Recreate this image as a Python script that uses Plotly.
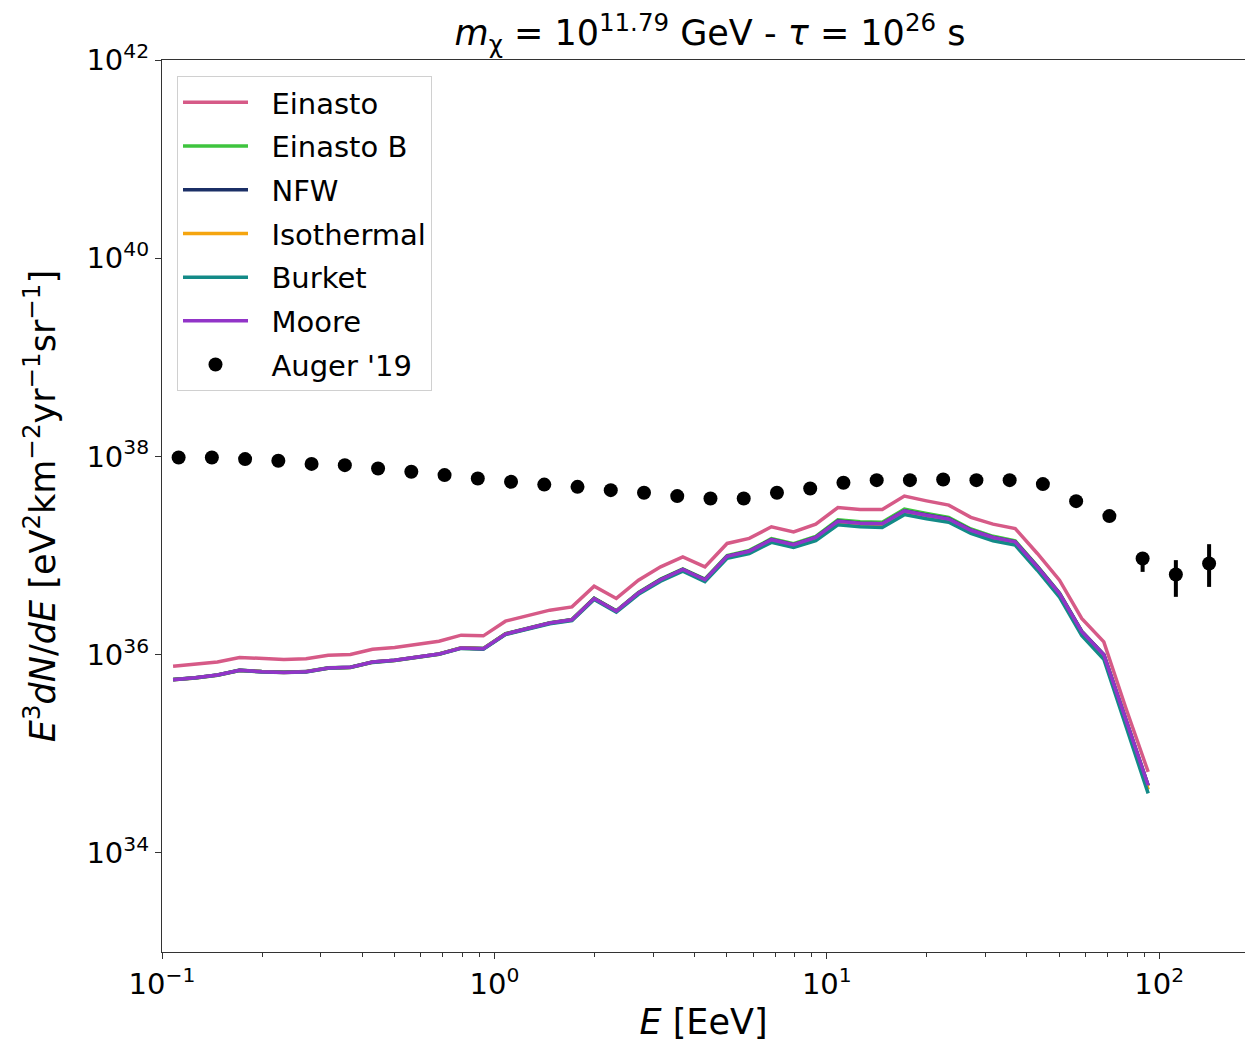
import numpy as np
import plotly.graph_objects as go

# ---------------- data ----------------
# model curves: log10(E/EeV) bin centres (15 bins per decade)
log_e_model = [-0.9667, -0.9000, -0.8333, -0.7667, -0.7000, -0.6333, -0.5667, -0.5000, -0.4333,
               -0.3667, -0.3000, -0.2333, -0.1667, -0.1000, -0.0333, 0.0333, 0.1000, 0.1667,
               0.2333, 0.3000, 0.3667, 0.4333, 0.5000, 0.5667, 0.6333, 0.7000, 0.7667, 0.8333,
               0.9000, 0.9667, 1.0333, 1.1000, 1.1667, 1.2333, 1.3000, 1.3667, 1.4333, 1.5000,
               1.5667, 1.6333, 1.7000, 1.7667, 1.8333, 1.9000, 1.9667]

# log10 of E^3 dN/dE for each halo profile
einasto = [35.883, 35.901, 35.927, 35.972, 35.958, 35.951, 35.958, 35.995, 36.002, 36.055,
           36.073, 36.103, 36.136, 36.197, 36.190, 36.338, 36.391, 36.449, 36.482, 36.691,
           36.567, 36.752, 36.886, 36.987, 36.886, 37.122, 37.173, 37.290, 37.239, 37.317,
           37.485, 37.465, 37.465, 37.600, 37.552, 37.509, 37.385, 37.317, 37.273, 37.021,
           36.752, 36.365, 36.129, 35.457, 34.817]
einasto_b = [35.750, 35.768, 35.796, 35.844, 35.830, 35.823, 35.830, 35.867, 35.874, 35.927,
             35.945, 35.975, 36.008, 36.069, 36.062, 36.211, 36.264, 36.322, 36.356, 36.570,
             36.443, 36.627, 36.762, 36.866, 36.763, 37.000, 37.052, 37.170, 37.119, 37.194,
             37.360, 37.340, 37.336, 37.468, 37.424, 37.385, 37.268, 37.194, 37.148, 36.894,
             36.622, 36.238, 36.000, 35.326, 34.680]
nfw = [35.749, 35.767, 35.795, 35.843, 35.829, 35.822, 35.829, 35.866, 35.873, 35.926,
       35.944, 35.974, 36.007, 36.068, 36.061, 36.209, 36.262, 36.320, 36.353, 36.567,
       36.440, 36.623, 36.757, 36.860, 36.757, 36.993, 37.044, 37.161, 37.110, 37.183,
       37.347, 37.327, 37.322, 37.452, 37.409, 37.371, 37.256, 37.183, 37.139, 36.887,
       36.618, 36.235, 35.999, 35.326, 34.678]
isothermal = [35.747, 35.765, 35.793, 35.841, 35.827, 35.820, 35.827, 35.864, 35.871, 35.924,
              35.942, 35.972, 36.005, 36.066, 36.059, 36.206, 36.259, 36.317, 36.350, 36.563,
              36.436, 36.618, 36.751, 36.853, 36.750, 36.985, 37.035, 37.150, 37.099, 37.170,
              37.332, 37.312, 37.306, 37.436, 37.394, 37.357, 37.243, 37.170, 37.125, 36.873,
              36.603, 36.220, 35.983, 35.305, 34.640]
burket = [35.746, 35.764, 35.792, 35.840, 35.826, 35.819, 35.826, 35.863, 35.870, 35.922,
          35.940, 35.970, 36.003, 36.063, 36.056, 36.202, 36.255, 36.312, 36.344, 36.556,
          36.428, 36.609, 36.741, 36.842, 36.738, 36.972, 37.020, 37.133, 37.081, 37.150,
          37.310, 37.290, 37.283, 37.413, 37.372, 37.336, 37.223, 37.150, 37.105, 36.852,
          36.580, 36.193, 35.953, 35.270, 34.600]
moore = [35.748, 35.766, 35.794, 35.842, 35.828, 35.821, 35.828, 35.865, 35.872, 35.925,
         35.943, 35.973, 36.006, 36.067, 36.060, 36.208, 36.261, 36.319, 36.352, 36.566,
         36.439, 36.622, 36.756, 36.859, 36.756, 36.992, 37.043, 37.160, 37.109, 37.182,
         37.345, 37.325, 37.320, 37.450, 37.407, 37.369, 37.255, 37.182, 37.138, 36.886,
         36.617, 36.235, 35.999, 35.327, 34.682]

# Auger 2019 data points
log_e_auger = [-0.95, -0.85, -0.75, -0.65, -0.55, -0.45, -0.35, -0.25, -0.15, -0.05,
               0.05, 0.15, 0.25, 0.35, 0.45, 0.55, 0.65, 0.75, 0.85, 0.95,
               1.05, 1.15, 1.25, 1.35, 1.45, 1.55, 1.65, 1.75, 1.85, 1.95, 2.05, 2.15]
auger = [37.990, 37.990, 37.973, 37.956, 37.925, 37.912, 37.879, 37.845, 37.812, 37.778,
         37.744, 37.716, 37.693, 37.660, 37.633, 37.600, 37.576, 37.576, 37.633, 37.677,
         37.734, 37.761, 37.761, 37.768, 37.761, 37.761, 37.721, 37.549, 37.398, 36.971,
         36.809, 36.920]
# error bar lengths in units of 1e36
auger_err_up = [0.0] * 29 + [1.2, 2.55, 4.71]
auger_err_dn = [0.0] * 29 + [2.51, 2.61, 3.49]

names = ["Einasto", "Einasto B", "NFW", "Isothermal", "Burket", "Moore"]
colors = ["#d65a87", "#3ec43e", "#1b2f66", "#f5a50f", "#138a87", "#9234c8"]
series = [einasto, einasto_b, nfw, isothermal, burket, moore]

x_ticks = [0.1, 1, 10, 100]
x_tick_text = ["10<sup>−1</sup>", "10<sup>0</sup>", "10<sup>1</sup>", "10<sup>2</sup>"]
y_ticks = [1e34, 1e36, 1e38, 1e40, 1e42]
y_tick_text = ["10<sup>34</sup>", "10<sup>36</sup>", "10<sup>38</sup>", "10<sup>40</sup>", "10<sup>42</sup>"]
x_minor = [m * d for d in (0.1, 1, 10, 100) for m in range(2, 10)]

# ---------------- figure ----------------
PAD = "\u00a0\u00a0"
fig = go.Figure()
e_model = [10 ** v for v in log_e_model]
for i, (name, col, s) in enumerate(zip(names, colors, series)):
    fig.add_trace(go.Scatter(x=e_model, y=[10 ** v for v in s], mode="lines", name=PAD + name,
                             legendgroup=f"g{i}",
                             line=dict(color=col, width=3.5)))

fig.add_trace(go.Scatter(
    x=[10 ** v for v in log_e_auger], y=[10 ** v for v in auger], mode="markers",
    name=PAD + "Auger '19", legendgroup="g6", marker=dict(color="black", size=14),
    error_y=dict(type="data", symmetric=False,
                 array=[v * 1e36 for v in auger_err_up],
                 arrayminus=[v * 1e36 for v in auger_err_dn],
                 color="black", thickness=4, width=0)))

font = "DejaVu Sans"
W, H = 1245, 1042
L, R, T, B = 162, 0, 60, 90
fig.update_layout(
    width=W, height=H,
    margin=dict(l=L, r=R, t=T, b=B),
    paper_bgcolor="white", plot_bgcolor="white",
    font=dict(family=font, size=29, color="black"),
    title=dict(text="<i>m</i><sub>χ</sub> = 10<sup>11.79</sup> GeV - <i>τ</i> = 10<sup>26</sup> s",
               xref="container", x=710 / W, xanchor="center",
               yref="container", y=1 - 33 / H, yanchor="middle",
               font=dict(family=font, size=35)),
    showlegend=True,
    legend=dict(x=(177 - L) / (W - L - R), y=1 - (76 - T) / (H - T - B),
                xanchor="left", yanchor="top",
                bgcolor="rgba(255,255,255,0.8)", bordercolor="#d0d0d0", borderwidth=1,
                font=dict(family=font, size=29), itemwidth=65,
                traceorder="grouped", tracegroupgap=3),
)
fig.update_xaxes(
    type="log", range=[-1, 2.258],
    showgrid=False, zeroline=False,
    showline=True, linecolor="#333333", linewidth=1.2, mirror=True,
    ticks="outside", ticklen=6, tickwidth=1, tickcolor="#333333",
    tickvals=x_ticks, ticktext=x_tick_text,
    minor=dict(ticks="outside", ticklen=3.5, tickwidth=0.8, tickcolor="#333333", tickvals=x_minor),
    title=dict(text="<i>E</i> [EeV]", font=dict(size=35), standoff=10),
    tickfont=dict(size=29),
)
fig.update_yaxes(
    type="log", range=[33, 42],
    showgrid=False, zeroline=False,
    showline=True, linecolor="#333333", linewidth=1.2, mirror=False,
    ticks="outside", ticklen=6, tickwidth=1, tickcolor="#333333",
    tickvals=y_ticks, ticktext=y_tick_text,
    title=dict(text="<i>E</i><sup>3</sup><i>dN</i>/<i>dE</i> [eV<sup>2</sup>km<sup>−2</sup>yr<sup>−1</sup>sr<sup>−1</sup>]",
               font=dict(size=35), standoff=20),
    tickfont=dict(size=29),
)

fig.write_html("out.html")
